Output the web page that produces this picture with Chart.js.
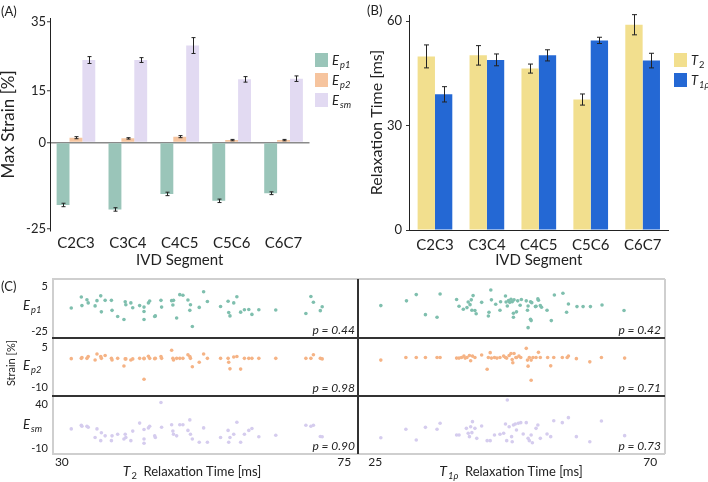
<!DOCTYPE html>
<html>
<head>
<meta charset="utf-8">
<script src="https://cdn.jsdelivr.net/npm/chart.js@4.4.1/dist/chart.umd.min.js"></script>
<style>
  body { margin: 0; background: #fff; font-family: Lato, sans-serif; color: #222; }
  #wrap { position: relative; width: 708px; height: 482px; overflow: hidden; }
  canvas { position: absolute; }
  .t { position: absolute; white-space: nowrap; line-height: 1; }
  .c { transform: translate(-50%, -50%); }
  .l { transform: translate(0, -50%); }
  .r { transform: translate(-100%, -50%); }
  .v { transform: translate(-50%, -50%) rotate(-90deg); }
  .sq { position: absolute; width: 13px; height: 14px; }
  .ln { position: absolute; }
  sub { font-size: 72%; vertical-align: baseline; position: relative; top: 0.3em; margin-left: 1px; }
</style>
</head>
<body>
<div id="wrap">
  <div class="t l" style="left:1px;top:11px;font-size:13px">(A)</div>
  <div class="t l" style="left:367px;top:10px;font-size:13px">(B)</div>
  <div class="t l" style="left:1px;top:286px;font-size:13px">(C)</div>

  <div class="sq" style="left:315px;top:53px;background:#9ac5b9"></div>
  <div class="sq" style="left:315px;top:73px;background:#f6c49e"></div>
  <div class="sq" style="left:315px;top:93px;background:#e2daf2"></div>
  <div class="t l" style="left:332px;top:60px;font-size:13px"><i>E</i><sub><i>p1</i></sub></div>
  <div class="t l" style="left:332px;top:80px;font-size:13px"><i>E</i><sub><i>p2</i></sub></div>
  <div class="t l" style="left:332px;top:100px;font-size:13px"><i>E</i><sub><i>sm</i></sub></div>

  <div class="sq" style="left:674px;top:53px;background:#f2df8e"></div>
  <div class="sq" style="left:674px;top:73px;background:#2468d4"></div>
  <div class="t l" style="left:691px;top:60px;font-size:13px"><i>T</i><sub>2</sub></div>
  <div class="t l" style="left:691px;top:80px;font-size:13px"><i>T</i><sub><i>1ρ</i></sub></div>

  <div class="t v" style="left:10px;top:363px;font-size:11px">Strain [%]</div>
  <div class="t l" style="left:23px;top:305px;font-size:13px"><i>E</i><sub><i>p1</i></sub></div>
  <div class="t l" style="left:23px;top:365px;font-size:13px"><i>E</i><sub><i>p2</i></sub></div>
  <div class="t l" style="left:23px;top:424px;font-size:13px"><i>E</i><sub><i>sm</i></sub></div>

  <div class="t c" style="left:192px;top:471px;font-size:13px"><i style="font-size:14px">T</i><sub>2</sub>&nbsp; Relaxation Time [ms]</div>
  <div class="t c" style="left:511px;top:471px;font-size:13px"><i style="font-size:14px">T</i><sub><i>1ρ</i></sub>&nbsp; Relaxation Time [ms]</div>
</div>

<script>
// Panel A / B: per-segment means with error bars
const segments = ['C2C3', 'C3C4', 'C4C5', 'C5C6', 'C6C7'];
const ep1Max = [-18.1, -19.4, -14.9, -16.9, -14.7];
const ep1Err = [0.5, 0.5, 0.5, 0.5, 0.4];
const ep2Max = [1.4, 1.2, 1.7, 0.7, 0.7];
const ep2Err = [0.3, 0.2, 0.3, 0.2, 0.2];
const esmMax = [23.9, 23.9, 28.1, 18.3, 18.5];
const esmErr = [1.0, 0.7, 2.3, 0.8, 0.8];
const strainTicks = [-25, 0, 15, 35];

const t2Mean = [49.9, 50.2, 46.4, 37.5, 59.0];
const t2Err = [3.3, 2.8, 1.3, 1.6, 2.9];
const t1pMean = [39.0, 48.9, 50.2, 54.5, 48.7];
const t1pErr = [2.2, 1.7, 1.6, 0.9, 2.1];
const timeTicks = [0, 30, 60];

// Panel C, left column: strain vs T2 (same samples in each row)
const t2Time = [31.5, 33.1, 33.2, 34.0, 34.2, 35.3, 35.6, 36.2, 36.3, 36.9,
  37.9, 38.0, 38.9, 39.9, 40.1, 40.2, 41.0, 41.3, 42.4, 43.1,
  43.1, 43.1, 43.8, 44.0, 44.8, 44.9, 45.8, 45.9, 47.5, 47.7,
  47.8, 48.3, 48.8, 49.3, 50.1, 50.4, 50.5, 50.8, 51.9, 52.6,
  53.2, 55.3, 56.5, 56.6, 56.8, 57.4, 57.9, 58.5, 59.1, 59.8,
  60.3, 61.4, 64.1, 68.9, 69.7, 70.1, 71.2, 71.5];
const ep1VsT2 = [-9.6, -2.3, -8.0, -4.1, -6.2, -8.2, -4.7, -1.5, -12.2, -4.5,
  -4.5, -11.2, -15.3, -17.3, -5.5, -7.4, -6.2, -9.4, -8.0, -9.0,
  -12.0, -17.3, -6.2, -4.9, -15.3, -14.9, -4.5, -9.0, -4.7, -7.6,
  -4.5, -16.3, -0.7, -1.1, -4.3, -11.2, -7.4, -22.0, -9.2, 1.2,
  -5.3, -8.6, -5.1, -12.6, -14.9, -6.2, -2.1, -12.4, -10.8, -10.6,
  -13.9, -10.8, -11.0, -13.3, -1.9, -5.8, -11.4, -8.8];
const ep2VsT2 = [0.9, 1.0, 1.3, 1.0, 1.7, 0.4, 2.7, 1.7, 1.0, 2.1,
  1.0, 0.4, 1.0, -1.9, 0.8, 0.8, 0.4, 0.8, 1.0, 1.0,
  0.9, -7.0, 1.8, 1.0, 0.9, 1.0, 1.7, 1.0, 4.1, 1.0,
  0.4, 1.0, 1.0, 1.0, 2.4, 1.7, 1.0, -2.2, -0.5, 2.7,
  1.0, 1.0, 1.0, -0.5, -3.0, 1.5, 1.7, -3.1, 1.0, 1.0,
  1.0, 1.0, 1.0, 1.0, 1.0, 2.4, 1.0, 0.8];
const esmVsT2 = [12.1, 16.1, 15.0, 15.0, 13.9, 2.5, 12.1, -1.1, 7.8, 4.3,
  -1.1, 4.3, 6.1, 0.7, 6.1, 2.5, -1.1, 9.6, 18.6, 11.4,
  0.7, -4.0, 13.2, 15.0, 4.3, 2.5, 41.8, 13.9, 16.8, 9.6,
  6.1, 4.3, 16.8, 16.8, 10.4, 22.2, 6.1, 0.7, -2.9, 13.2,
  -2.9, 2.5, 10.4, -2.9, 2.5, 6.1, 19.6, -2.9, 6.1, 10.4,
  12.5, 3.2, 5.0, 16.1, 15.0, 16.1, 3.6, 3.2];

// Panel C, right column: strain vs T1rho
const t1pTimeEp1 = [25.9, 30.1, 31.7, 33.2, 35.1, 35.6, 38.3, 38.7, 39.4, 40.0,
  40.2, 40.5, 40.7, 40.8, 41.0, 41.3, 41.5, 42.4, 43.5, 43.6,
  43.9, 44.0, 44.7, 45.4, 45.5, 46.3, 46.4, 46.6, 46.8, 47.0,
  47.2, 47.4, 47.6, 47.6, 47.7, 48.1, 48.3, 48.7, 48.9, 49.7,
  49.9, 50.0, 50.0, 50.4, 50.4, 50.5, 50.6, 51.2, 51.3, 51.6,
  51.7, 52.0, 52.2, 53.1, 53.8, 54.3, 55.7, 56.3, 56.6, 58.0,
  59.0, 60.2, 62.1, 65.7];
const ep1VsT1p = [-8.2, -5.3, -1.5, -13.7, -15.3, -1.1, -4.5, -8.6, -10.4, -9.4,
  -6.0, -7.6, -4.7, -11.0, -2.1, -11.2, -13.1, -6.2, -14.5, -12.2,
  1.3, -4.7, -7.4, -11.0, -5.8, -2.3, -6.0, -8.4, -5.1, -6.2,
  -4.3, -5.8, -12.8, -15.3, -4.7, -12.0, -5.3, -8.0, -4.5, -5.3,
  -11.0, -8.4, -21.6, -5.8, -16.5, -17.3, -6.4, -8.8, -8.6, -4.1,
  -4.9, -8.2, -9.2, -11.0, -17.3, -1.7, -0.7, -12.2, -7.2, -8.8,
  -8.8, -8.8, -7.8, -11.2];
const t1pTimeEp2 = [25.9, 30.0, 31.7, 33.2, 35.1, 35.6, 38.3, 38.7, 39.1, 39.5,
  39.7, 40.0, 40.4, 40.6, 40.9, 41.3, 42.4, 43.3, 43.5, 43.8,
  44.0, 44.5, 44.9, 45.4, 46.0, 46.3, 46.5, 46.9, 47.2, 47.4,
  47.5, 47.7, 48.0, 48.1, 48.5, 48.8, 49.7, 49.9, 50.0, 50.2,
  50.5, 50.5, 50.8, 51.3, 51.7, 52.0, 53.2, 53.7, 54.2, 55.6,
  56.4, 56.6, 57.9, 60.1, 62.0, 65.8];
const ep2VsT1p = [0.1, 1.0, 1.0, 1.0, 1.0, 1.0, 0.8, 0.8, 1.0, 1.5,
  0.8, 1.0, 1.7, -0.1, 1.5, 1.0, 1.9, -3.1, 1.0, 2.7,
  0.8, 1.0, 0.8, 1.0, 1.5, 1.0, 0.8, 1.7, 2.4, 0.3,
  -0.8, 2.4, 1.0, 1.0, 1.5, 1.0, 4.2, 0.1, -2.0, 1.0,
  -6.9, 0.1, 1.0, 1.0, 2.8, 1.0, 1.0, -1.9, 1.0, 1.0,
  1.0, 1.5, 0.6, -0.5, 1.0, 0.8];
const t1pTimeEsm = [25.9, 30.0, 31.7, 33.2, 35.1, 35.6, 38.3, 38.7, 39.9, 40.2,
  40.4, 40.6, 40.8, 40.9, 41.3, 41.6, 42.4, 43.3, 43.8, 44.5,
  45.4, 46.0, 46.3, 46.5, 46.6, 46.9, 47.3, 47.4, 47.6, 47.9,
  48.1, 48.4, 48.8, 49.2, 49.7, 50.0, 50.2, 50.5, 50.7, 51.3,
  51.6, 52.0, 53.1, 53.7, 54.2, 55.6, 56.6, 57.9, 60.1, 62.0,
  65.8];
const esmVsT1p = [1.4, 10.4, -1.1, 12.5, 10.4, 16.8, 4.3, 4.3, 11.4, 6.1,
  2.5, 13.2, 6.8, 18.6, 11.4, 0.7, 13.9, -1.8, -1.8, 4.3,
  5.0, 6.1, 16.1, -1.8, 41.8, 13.2, 2.5, -2.9, 15.0, 16.1,
  9.6, 16.8, 17.5, 5.3, 17.5, 0.7, -1.8, 4.3, -4.0, 11.4,
  15.0, 0.7, 5.3, 2.5, 19.6, 17.5, 22.9, 2.5, -2.9, 19.3,
  3.6];

const pLeft = ['p = 0.44', 'p = 0.98', 'p = 0.90'];
const pRight = ['p = 0.42', 'p = 0.71', 'p = 0.73'];
const rowTicks = [[-25, 5], [-10, 5], [-10, 40]];
const rowRanges = [[-27.9, 8.0], [-12.4, 7.8], [-16.1, 46.1]];
const t2Ticks = [30, 75];
const t1pTicks = [25, 70];

Chart.defaults.font.family = 'Lato, sans-serif';
Chart.defaults.color = '#222';

const wrap = document.getElementById('wrap');

function box(left, top, w, h) {
  const c = document.createElement('canvas');
  c.width = w; c.height = h;
  c.style.left = left + 'px';
  c.style.top = top + 'px';
  wrap.insertBefore(c, wrap.firstChild);
  return c;
}

function text(html, cls, left, top, size) {
  const d = document.createElement('div');
  d.className = 't ' + cls;
  d.style.left = left + 'px';
  d.style.top = top + 'px';
  d.style.fontSize = size + 'px';
  d.innerHTML = html;
  wrap.appendChild(d);
}

function line(left, top, w, h, color) {
  const d = document.createElement('div');
  d.className = 'ln';
  d.style.cssText = `left:${left}px;top:${top}px;width:${w}px;height:${h}px;background:${color}`;
  wrap.appendChild(d);
}

const fixTicks = (vals) => (s) => { s.ticks = vals.map(v => ({ value: v })); };

// hata çubukları
const errorBars = {
  id: 'errorBars',
  afterDatasetsDraw(chart, args, opts) {
    const { ctx } = chart;
    const y = chart.scales.y;
    ctx.save();
    ctx.strokeStyle = '#222';
    ctx.lineWidth = 1;
    chart.data.datasets.forEach((ds, i) => {
      if (!ds.errors) return;
      chart.getDatasetMeta(i).data.forEach((bar, j) => {
        const v = ds.data[j], e = ds.errors[j];
        const hi = y.getPixelForValue(v + e), lo = y.getPixelForValue(v - e);
        const x = Math.round(bar.x) + 0.5;
        ctx.beginPath();
        ctx.moveTo(x, hi); ctx.lineTo(x, lo);
        ctx.moveTo(x - opts.cap, hi); ctx.lineTo(x + opts.cap, hi);
        ctx.moveTo(x - opts.cap, lo); ctx.lineTo(x + opts.cap, lo);
        ctx.stroke();
      });
    });
    ctx.restore();
  }
};

// (A) max strain
new Chart(box(0, 0, 355, 272), {
  type: 'bar',
  data: {
    labels: segments,
    datasets: [
      { label: 'Ep1', data: ep1Max, errors: ep1Err, backgroundColor: '#9ac5b9' },
      { label: 'Ep2', data: ep2Max, errors: ep2Err, backgroundColor: '#f6c49e' },
      { label: 'Esm', data: esmMax, errors: esmErr, backgroundColor: '#e2daf2' }
    ]
  },
  options: {
    responsive: false, animation: false,
    layout: { padding: { top: 18.3, right: 45.5, bottom: 0, left: 0 } },
    datasets: { bar: { categoryPercentage: 0.745, barPercentage: 1 } },
    plugins: { legend: { display: false }, tooltip: { enabled: false }, errorBars: { cap: 2 } },
    scales: {
      x: {
        grid: { display: false, drawTicks: false }, border: { display: false },
        ticks: { padding: 4, font: { size: 15 } },
        title: { display: true, text: 'IVD Segment', font: { size: 15, lineHeight: 1.2 }, padding: { top: 0, bottom: 3 } },
        afterFit: s => { s.height = 41.5; }
      },
      y: {
        min: -25.5, max: 36,
        afterBuildTicks: fixTicks(strainTicks),
        grid: {
          color: c => (c.tick && c.tick.value === 0) ? '#8a8a8a' : 'rgba(0,0,0,0)',
          lineWidth: 1.5, tickLength: 3, tickColor: '#333', tickWidth: 1
        },
        border: { display: true, color: '#222', width: 1 },
        ticks: { padding: 1, font: { size: 13 } },
        title: { display: true, text: 'Max Strain [%]', font: { size: 17, lineHeight: 1 }, padding: 0 },
        afterFit: s => { s.width = 50; }
      }
    }
  },
  plugins: [errorBars]
});

// (B) relaxation time
new Chart(box(355, 0, 353, 272), {
  type: 'bar',
  data: {
    labels: segments,
    datasets: [
      { label: 'T2', data: t2Mean, errors: t2Err, backgroundColor: '#f2df8e' },
      { label: 'T1p', data: t1pMean, errors: t1pErr, backgroundColor: '#2468d4' }
    ]
  },
  options: {
    responsive: false, animation: false,
    layout: { padding: { top: 15, right: 39.4, bottom: 0, left: 0 } },
    datasets: { bar: { categoryPercentage: 0.668, barPercentage: 1 } },
    plugins: { legend: { display: false }, tooltip: { enabled: false }, errorBars: { cap: 2.5 } },
    scales: {
      x: {
        grid: { display: false, drawTicks: false }, border: { display: true, color: '#222', width: 1 },
        ticks: { padding: 6, font: { size: 15 } },
        title: { display: true, text: 'IVD Segment', font: { size: 15, lineHeight: 1.2 }, padding: { top: 0, bottom: 3 } },
        afterFit: s => { s.height = 42; }
      },
      y: {
        min: 0, max: 61.8,
        afterBuildTicks: fixTicks(timeTicks),
        grid: { drawOnChartArea: false, tickLength: 3, tickColor: '#333' },
        border: { display: true, color: '#222', width: 1 },
        ticks: { padding: 4, font: { size: 13 } },
        title: { display: true, text: 'Relaxation Time [ms]', font: { size: 16, lineHeight: 1 }, padding: { top: 14, bottom: 0 } },
        afterFit: s => { s.width = 54; }
      }
    }
  },
  plugins: [errorBars]
});

// (C) scatter grid
const rowTop = [279, 338, 396];
const rowH = [59, 58, 58];
const colors = ['#7fbfae', '#f5b385', '#d5ccee'];
const leftRows = [ep1VsT2, ep2VsT2, esmVsT2];
const rightRows = [[t1pTimeEp1, ep1VsT1p], [t1pTimeEp2, ep2VsT1p], [t1pTimeEsm, esmVsT1p]];

function scatter(left, width, r, xs, ys, xRange, xTicks, withY) {
  const last = r === 2;
  const h = 8 + rowH[r] + (last ? 20 : 8);
  return new Chart(box(left, rowTop[r] - 8, width, h), {
    type: 'scatter',
    data: {
      datasets: [{
        data: xs.map((x, i) => ({ x, y: ys[i] })),
        backgroundColor: colors[r], borderWidth: 0, pointRadius: 1.8
      }]
    },
    options: {
      responsive: false, animation: false,
      layout: { padding: { top: 8, bottom: last ? 0 : 8, left: 0, right: 0 } },
      plugins: { legend: { display: false }, tooltip: { enabled: false } },
      scales: {
        x: {
          type: 'linear', min: xRange[0], max: xRange[1], display: last,
          afterBuildTicks: fixTicks(xTicks),
          grid: { display: false, drawTicks: false }, border: { display: false },
          ticks: { padding: 1, font: { size: 12 } },
          afterFit: s => { s.height = last ? 20 : 0; }
        },
        y: {
          min: rowRanges[r][0], max: rowRanges[r][1], display: withY,
          afterBuildTicks: fixTicks(rowTicks[r]),
          grid: { display: false, drawTicks: false }, border: { display: false },
          ticks: { padding: 4, font: { size: 11 } },
          afterFit: s => { s.width = withY ? 52 : 0; }
        }
      }
    }
  });
}

for (let r = 0; r < 3; r++) {
  scatter(0, 358, r, t2Time, leftRows[r], [28.43, 76.57], t2Ticks, true);
  scatter(358, 307, r, rightRows[r][0], rightRows[r][1], [22.82, 71.75], t1pTicks, false);
  const pY = rowTop[r] + rowH[r] - 8;
  text(`<i>${pLeft[r]}</i>`, 'r', 355, pY, 12);
  text(`<i>${pRight[r]}</i>`, 'r', 661, pY, 12);
}

// çerçeve
line(52, 278, 613, 2, '#cfcfcf');
line(52, 279, 1.5, 175, '#cfcfcf');
line(664, 279, 2, 175, '#cfcfcf');
line(52, 453, 613, 1.5, '#cfcfcf');
line(52, 337, 613, 1.5, '#333');
line(52, 395, 613, 1.5, '#333');
line(357, 279, 1.5, 175, '#333');
</script>
</body>
</html>
